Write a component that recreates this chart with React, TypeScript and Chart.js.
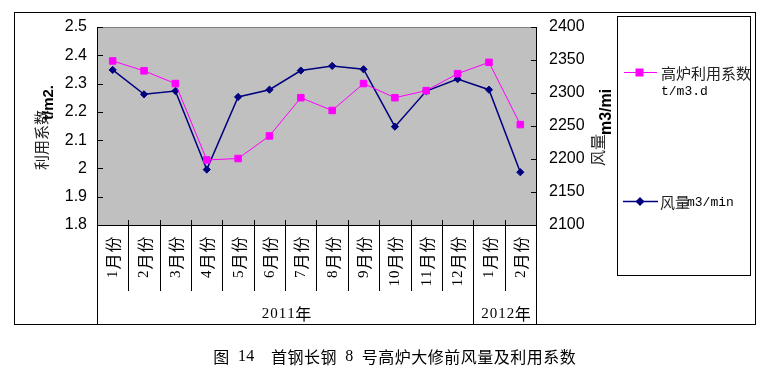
import React, { useEffect, useRef } from "react";
import { Chart, registerables } from "chart.js";

Chart.register(...registerables);

const months = ["1月份", "2月份", "3月份", "4月份", "5月份", "6月份", "7月份", "8月份", "9月份", "10月份", "11月份", "12月份", "1月份", "2月份"];
const yearLabels = ["2011年", "2012年"];
const yearSpans = [12, 2];
const utilization = [2.38, 2.345, 2.3, 2.03, 2.035, 2.115, 2.25, 2.205, 2.3, 2.25, 2.275, 2.335, 2.375, 2.155];
const airVolume = [2335, 2298, 2303, 2184, 2294, 2305, 2334, 2341, 2336, 2249, 2303, 2321, 2305, 2180];
const utilName = "高炉利用系数";
const utilUnit = "t/m3.d";
const airName = "风量";
const airUnit = "m3/min";
const leftTitleCjk = "利用系数";
const leftTitleLatin = "t/m2.";
const rightTitleCjk = "风量";
const rightTitleLatin = "m3/mi";
const caption = "图 14  首钢长钢 8 号高炉大修前风量及利用系数";

const PINK = "#FF00FF";
const NAVY = "#000080";
const CJK = '"Noto Sans CJK SC", sans-serif';
const SERIF = '"Liberation Serif", serif';
const MONO = '"Liberation Mono", monospace';
const SANS = '"Liberation Sans", Arial, sans-serif';

const isAscii = (ch: string) => ch.charCodeAt(0) < 128;

function mixedWidth(text: string, cjkAdv: number, asciiAdv: number) {
  let w = 0;
  for (const ch of text) w += isAscii(ch) ? asciiAdv : cjkAdv;
  return w;
}

function drawMixed(
  ctx: CanvasRenderingContext2D,
  text: string,
  x: number,
  y: number,
  o: { cjkFont: string; asciiFont: string; cjkAdv: number; asciiAdv: number }
) {
  let cx = x;
  ctx.textAlign = "center";
  ctx.textBaseline = "middle";
  for (const ch of text) {
    const a = isAscii(ch);
    const adv = a ? o.asciiAdv : o.cjkAdv;
    ctx.font = a ? o.asciiFont : o.cjkFont;
    if (ch !== " ") ctx.fillText(ch, cx + adv / 2, y);
    cx += adv;
  }
}

const decorPlugin = {
  id: "decor",
  beforeDraw(chart: any) {
    const { ctx, chartArea: a } = chart;
    ctx.save();
    ctx.fillStyle = "#ffffff";
    ctx.fillRect(0, 0, chart.width, chart.height);
    ctx.fillStyle = "#C0C0C0";
    ctx.fillRect(a.left, a.top, a.right - a.left, a.bottom - a.top);
    ctx.restore();
  },
  beforeDatasetsDraw(chart: any) {
    const { ctx, chartArea: a, scales } = chart;
    ctx.save();
    ctx.lineWidth = 1;
    ctx.strokeStyle = "#808080";
    ctx.beginPath();
    ctx.moveTo(a.left, a.top + 0.5);
    ctx.lineTo(a.right, a.top + 0.5);
    ctx.stroke();
    ctx.strokeStyle = "#000000";
    for (const t of scales.y.ticks) {
      const y = Math.round(scales.y.getPixelForValue(t.value)) + 0.5;
      ctx.beginPath();
      ctx.moveTo(a.left, y);
      ctx.lineTo(a.left + 6, y);
      ctx.stroke();
    }
    for (const t of scales.y1.ticks) {
      const y = Math.round(scales.y1.getPixelForValue(t.value)) + 0.5;
      ctx.beginPath();
      ctx.moveTo(a.right - 5, y);
      ctx.lineTo(a.right, y);
      ctx.stroke();
    }
    ctx.beginPath();
    ctx.moveTo(a.left, a.bottom + 0.5);
    ctx.lineTo(a.right, a.bottom + 0.5);
    ctx.stroke();
    const xs = scales.x;
    const n = months.length;
    const step = xs.getPixelForValue(1) - xs.getPixelForValue(0);
    const start = xs.getPixelForValue(0) - step / 2;
    let cum = 0;
    const majors = new Set<number>([0, n]);
    for (const s of yearSpans) {
      cum += s;
      majors.add(cum);
    }
    for (let k = 0; k <= n; k++) {
      const x = Math.round(start + k * step) + 0.5;
      ctx.beginPath();
      if (k === 0 || k === n) {
        ctx.moveTo(x, a.top);
        ctx.lineTo(x, 325);
      } else if (majors.has(k)) {
        ctx.moveTo(x, a.bottom - 5);
        ctx.lineTo(x, 325);
      } else {
        ctx.moveTo(x, a.bottom - 5);
        ctx.lineTo(x, 291);
      }
      ctx.stroke();
    }
    ctx.restore();
  },
  afterDraw(chart: any) {
    const { ctx, scales } = chart;
    const xs = scales.x;
    ctx.save();
    ctx.fillStyle = "#000000";
    months.forEach((m, i) => {
      const cx = xs.getPixelForValue(i) + 0.5;
      const w = mixedWidth(m, 17, 8.3);
      ctx.save();
      ctx.translate(cx, 236);
      ctx.rotate(-Math.PI / 2);
      drawMixed(ctx, m, -w, 0, {
        cjkFont: `16px ${CJK}`,
        asciiFont: `15px ${SERIF}`,
        cjkAdv: 17,
        asciiAdv: 8.3,
      });
      ctx.restore();
    });
    const step = xs.getPixelForValue(1) - xs.getPixelForValue(0);
    const start = xs.getPixelForValue(0) - step / 2;
    let cum = 0;
    yearLabels.forEach((yl, i) => {
      const x0 = start + cum * step;
      cum += yearSpans[i];
      const x1 = start + cum * step;
      const w = mixedWidth(yl, 16, 8.5);
      drawMixed(ctx, yl, (x0 + x1) / 2 - w / 2 + 1, 314, {
        cjkFont: `16px ${CJK}`,
        asciiFont: `15px ${SERIF}`,
        cjkAdv: 16,
        asciiAdv: 8.5,
      });
    });
    ctx.fillStyle = "#222222";
    ctx.textAlign = "left";
    ctx.textBaseline = "alphabetic";
    ctx.save();
    ctx.translate(47, 170);
    ctx.rotate(-Math.PI / 2);
    ctx.font = `15px ${CJK}`;
    ctx.fillText(leftTitleCjk, 0, 0);
    ctx.restore();
    ctx.fillStyle = "#000000";
    ctx.save();
    ctx.translate(53, 120);
    ctx.rotate(-Math.PI / 2);
    ctx.font = `bold 15px ${SANS}`;
    ctx.fillText(leftTitleLatin, 0, 0);
    ctx.restore();
    ctx.fillStyle = "#222222";
    ctx.save();
    ctx.translate(604, 166);
    ctx.rotate(-Math.PI / 2);
    ctx.font = `16px ${CJK}`;
    ctx.fillText(rightTitleCjk, 0, 0);
    ctx.restore();
    ctx.fillStyle = "#000000";
    ctx.save();
    ctx.translate(611, 135);
    ctx.rotate(-Math.PI / 2);
    ctx.font = `bold 16px ${SANS}`;
    ctx.fillText(rightTitleLatin, 0, 0);
    ctx.restore();

    ctx.strokeStyle = "#000000";
    ctx.lineWidth = 1;
    ctx.strokeRect(617.5, 16.5, 133, 259);
    ctx.save();
    ctx.beginPath();
    ctx.rect(618, 17, 132, 258);
    ctx.clip();
    ctx.strokeStyle = PINK;
    ctx.beginPath();
    ctx.moveTo(624, 72.5);
    ctx.lineTo(657, 72.5);
    ctx.stroke();
    ctx.fillStyle = PINK;
    ctx.fillRect(635.5, 68.5, 8, 8);
    ctx.fillStyle = "#222222";
    ctx.textAlign = "left";
    ctx.textBaseline = "middle";
    ctx.font = `15px ${CJK}`;
    ctx.fillText(utilName, 661, 73.5);
    ctx.fillStyle = "#000000";
    ctx.font = `13px ${MONO}`;
    ctx.fillText(utilUnit, 661, 92);
    ctx.strokeStyle = NAVY;
    ctx.lineWidth = 1.5;
    ctx.beginPath();
    ctx.moveTo(623, 201.5);
    ctx.lineTo(658, 201.5);
    ctx.stroke();
    ctx.fillStyle = NAVY;
    ctx.beginPath();
    ctx.moveTo(640, 197);
    ctx.lineTo(644.5, 201.5);
    ctx.lineTo(640, 206);
    ctx.lineTo(635.5, 201.5);
    ctx.closePath();
    ctx.fill();
    ctx.fillStyle = "#222222";
    ctx.font = `15px ${CJK}`;
    ctx.fillText(airName, 660, 202);
    ctx.fillStyle = "#000000";
    ctx.font = `13px ${MONO}`;
    ctx.fillText(airUnit, 687, 203);
    ctx.restore();

    ctx.strokeStyle = "#000000";
    ctx.lineWidth = 1;
    ctx.strokeRect(14.5, 12.5, 741, 312);

    ctx.fillStyle = "#000000";
    drawMixed(ctx, caption, 213, 357, {
      cjkFont: `16px ${CJK}`,
      asciiFont: `16px ${SERIF}`,
      cjkAdv: 16.5,
      asciiAdv: 8.25,
    });
    ctx.restore();
  },
};

export default function App() {
  const ref = useRef<HTMLCanvasElement | null>(null);
  useEffect(() => {
    if (!ref.current) return;
    const chart = new Chart(ref.current, {
      type: "line",
      data: {
        labels: months,
        datasets: [
          {
            label: utilName + utilUnit,
            data: utilization,
            yAxisID: "y",
            borderColor: PINK,
            backgroundColor: PINK,
            borderWidth: 1,
            pointStyle: "rect",
            pointRadius: 4.6,
            pointBorderWidth: 1,
            pointBorderColor: PINK,
            pointBackgroundColor: PINK,
            tension: 0,
          },
          {
            label: airName + airUnit,
            data: airVolume,
            yAxisID: "y1",
            borderColor: NAVY,
            backgroundColor: NAVY,
            borderWidth: 1.5,
            pointStyle: "rectRot",
            pointRadius: 3.6,
            pointBorderWidth: 1,
            pointBorderColor: NAVY,
            pointBackgroundColor: NAVY,
            tension: 0,
          },
        ],
      },
      options: {
        responsive: false,
        animation: false,
        devicePixelRatio: 1,
        layout: { padding: { top: 27, left: 0, right: 0, bottom: 0 } },
        plugins: {
          legend: { display: false },
          tooltip: { enabled: false },
          title: { display: false },
        },
        scales: {
          x: {
            type: "category",
            offset: true,
            grid: { display: false, drawTicks: false },
            border: { display: false },
            ticks: { display: false },
            afterFit: (s: any) => {
              s.height = 152;
            },
          },
          y: {
            position: "left",
            min: 1.8,
            max: 2.5,
            ticks: {
              stepSize: 0.1,
              padding: 10,
              color: "#000000",
              font: { family: SANS, size: 16 },
              callback: (v: any) => String(Math.round(Number(v) * 10) / 10),
            },
            grid: { display: false, drawTicks: false },
            border: { display: false },
            afterFit: (s: any) => {
              s.width = 97;
            },
          },
          y1: {
            position: "right",
            min: 2100,
            max: 2400,
            ticks: {
              stepSize: 50,
              padding: 13,
              color: "#000000",
              font: { family: SANS, size: 16 },
              callback: (v: any) => String(Math.round(Number(v))),
            },
            grid: { display: false, drawTicks: false },
            border: { display: false },
            afterFit: (s: any) => {
              s.width = 230;
            },
          },
        },
      },
      plugins: [decorPlugin],
    } as any);
    return () => chart.destroy();
  }, []);
  return (
    <div style={{ position: "fixed", left: 0, top: 0, width: 766, height: 377 }}>
      <canvas ref={ref} width={766} height={377} style={{ width: 766, height: 377, display: "block" }} />
    </div>
  );
}
